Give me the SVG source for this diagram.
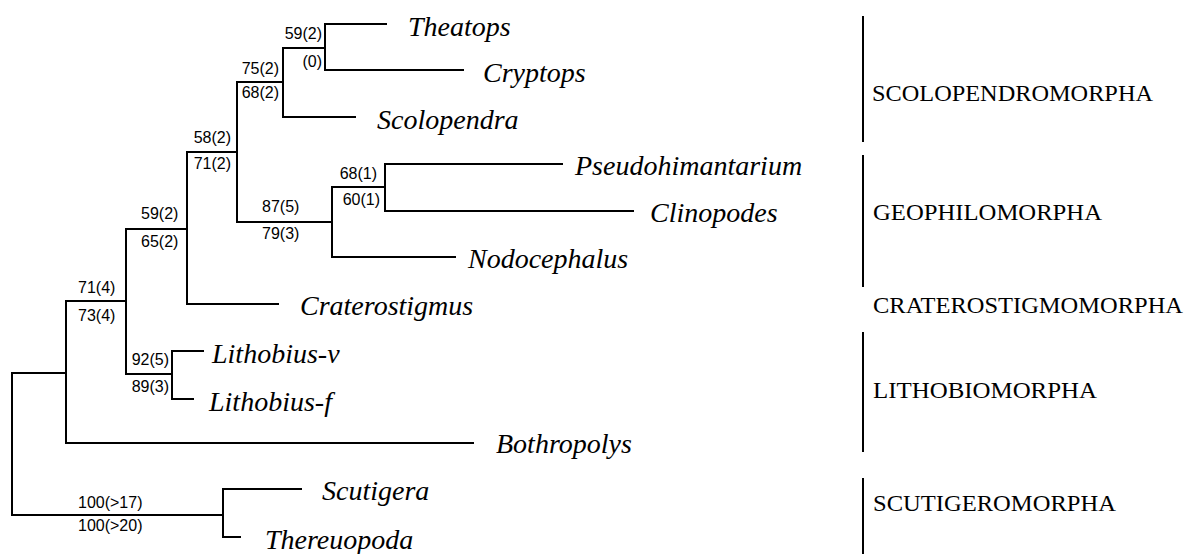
<svg xmlns="http://www.w3.org/2000/svg" width="1187" height="554" viewBox="0 0 1187 554">
<style>
.br{fill:none;stroke:#000;stroke-width:2;stroke-linecap:square}
.bar{stroke:#000;stroke-width:2}
.tx{font-family:"Liberation Serif","Times New Roman",serif;font-style:italic;font-size:28px;fill:#000}
.sp{font-family:"Liberation Sans",Arial,sans-serif;font-size:16px;fill:#000}
.gp{font-family:"Liberation Serif","Times New Roman",serif;font-size:24px;fill:#000}
</style>
<rect width="1187" height="554" fill="#fff"/>
<g id="connectors">
<path class="br" d="M283,48H325M325,24V70M325,24H386M325,70H463"/>
<path class="br" d="M237,82H283M283,48V117M283,117H355"/>
<path class="br" d="M187,152H237M237,82V222"/>
<path class="br" d="M237,222H332M332,187V257M332,257H455"/>
<path class="br" d="M332,187H385M385,164V211M385,164H562M385,211H633"/>
<path class="br" d="M126,229H187M187,152V304M187,304H278"/>
<path class="br" d="M66,301H126M126,229V374"/>
<path class="br" d="M126,374H172M172,351V399M172,351H203M172,399H193"/>
<path class="br" d="M12,373H66M66,301V443M66,443H473"/>
<path class="br" d="M12,373V515M12,515H223"/>
<path class="br" d="M223,489V537M223,489H301M223,537H240"/>
</g>
<g id="support">
<text class="sp" x="322" y="39" text-anchor="end">59(2)</text>
<text class="sp" x="322" y="67" text-anchor="end">(0)</text>
<text class="sp" x="279" y="74" text-anchor="end">75(2)</text>
<text class="sp" x="279" y="98" text-anchor="end">68(2)</text>
<text class="sp" x="231" y="143" text-anchor="end">58(2)</text>
<text class="sp" x="231" y="169" text-anchor="end">71(2)</text>
<text class="sp" x="377" y="179" text-anchor="end">68(1)</text>
<text class="sp" x="380" y="205" text-anchor="end">60(1)</text>
<text class="sp" x="262" y="212">87(5)</text>
<text class="sp" x="262" y="239">79(3)</text>
<text class="sp" x="141" y="219">59(2)</text>
<text class="sp" x="141" y="247">65(2)</text>
<text class="sp" x="78" y="293">71(4)</text>
<text class="sp" x="78" y="321">73(4)</text>
<text class="sp" x="169" y="365" text-anchor="end">92(5)</text>
<text class="sp" x="169" y="392" text-anchor="end">89(3)</text>
<text class="sp" x="78" y="508">100(&gt;17)</text>
<text class="sp" x="78" y="531">100(&gt;20)</text>
</g>
<g id="taxa">
<text id="theatops" class="tx" x="408" y="36">Theatops</text>
<text id="cryptops" class="tx" x="483" y="82">Cryptops</text>
<text id="scolopendra" class="tx" x="377" y="129">Scolopendra</text>
<text id="pseudohimantarium" class="tx" x="575" y="175">Pseudohimantarium</text>
<text id="clinopodes" class="tx" x="650" y="222">Clinopodes</text>
<text id="nodocephalus" class="tx" x="468" y="268">Nodocephalus</text>
<text id="craterostigmus" class="tx" x="300" y="315">Craterostigmus</text>
<text id="lithobius-v" class="tx" x="212" y="363">Lithobius-v</text>
<text id="lithobius-f" class="tx" x="209" y="411">Lithobius-f</text>
<text id="bothropolys" class="tx" x="496" y="453">Bothropolys</text>
<text id="scutigera" class="tx" x="322" y="500">Scutigera</text>
<text id="thereuopoda" class="tx" x="265" y="549">Thereuopoda</text>
</g>
<g id="groups">
<g id="scolopendromorpha"><line class="bar" x1="863" y1="16" x2="863" y2="142"/><text class="gp" x="872" y="101" textLength="281" lengthAdjust="spacingAndGlyphs">SCOLOPENDROMORPHA</text></g>
<g id="geophilomorpha"><line class="bar" x1="863" y1="155" x2="863" y2="287"/><text class="gp" x="873" y="220" textLength="229" lengthAdjust="spacingAndGlyphs">GEOPHILOMORPHA</text></g>
<g id="craterostigmomorpha"><text class="gp" x="873" y="313" textLength="310" lengthAdjust="spacingAndGlyphs">CRATEROSTIGMOMORPHA</text></g>
<g id="lithobiomorpha"><line class="bar" x1="863" y1="332" x2="863" y2="452"/><text class="gp" x="873" y="398" textLength="224" lengthAdjust="spacingAndGlyphs">LITHOBIOMORPHA</text></g>
<g id="scutigeromorpha"><line class="bar" x1="863" y1="478" x2="863" y2="554"/><text class="gp" x="873" y="511" textLength="243" lengthAdjust="spacingAndGlyphs">SCUTIGEROMORPHA</text></g>
</g>
</svg>
